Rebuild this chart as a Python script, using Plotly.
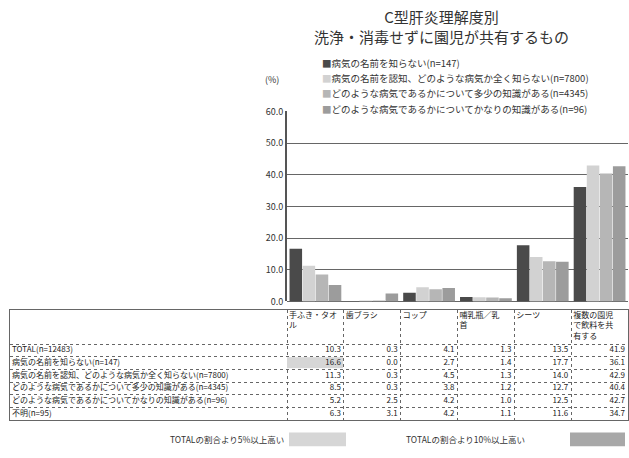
import plotly.graph_objects as go

# ---- data ----
categories = ["手ふき・タオル", "歯ブラシ", "コップ", "哺乳瓶／乳首", "シーツ", "複数の園児で飲料を共有する"]
header_labels = ["手ふき・タオ<br>ル", "歯ブラシ", "コップ", "哺乳瓶／乳<br>首", "シーツ", "複数の園児<br>で飲料を共<br>有する"]

row_labels = [
    "TOTAL(n=12483)",
    "病気の名前を知らない(n=147)",
    "病気の名前を認知、どのような病気か全く知らない(n=7800)",
    "どのような病気であるかについて多少の知識がある(n=4345)",
    "どのような病気であるかについてかなりの知識がある(n=96)",
    "不明(n=95)",
]
total_vals = [10.3, 0.3, 4.1, 1.3, 13.5, 41.9]
unaware_vals = [16.6, 0.0, 2.7, 1.4, 17.7, 36.1]
name_only_vals = [11.3, 0.3, 4.5, 1.3, 14.0, 42.9]
some_knowledge_vals = [8.5, 0.3, 3.8, 1.2, 12.7, 40.4]
good_knowledge_vals = [5.2, 2.5, 4.2, 1.0, 12.5, 42.7]
unknown_vals = [6.3, 3.1, 4.2, 1.1, 11.6, 34.7]

series_names = [
    "病気の名前を知らない(n=147)",
    "病気の名前を認知、どのような病気か全く知らない(n=7800)",
    "どのような病気であるかについて多少の知識がある(n=4345)",
    "どのような病気であるかについてかなりの知識がある(n=96)",
]
series_vals = [unaware_vals, name_only_vals, some_knowledge_vals, good_knowledge_vals]
series_colors = ["#4a4a4a", "#d2d2d2", "#b6b6b6", "#9c9c9c"]

y_ticks = [0, 10, 20, 30, 40, 50, 60]

W, H = 629, 458
FONT = "Noto Sans CJK JP"
LIGHT, DARK = "#d6d6d6", "#a8a8a8"


def px(x):
    return x / W


def py(y):
    return 1 - y / H


# table geometry (in table-axis units)
LABEL_COL_W = 277
VALUE_COL_W = 56.83
HEADER_H = 35
ROW_H = 13
col_edges = [0, LABEL_COL_W] + [LABEL_COL_W + VALUE_COL_W * (k + 1) for k in range(len(categories))]
row_edges = [0, HEADER_H] + [HEADER_H + ROW_H * (k + 1) for k in range(len(row_labels))]
TABLE_W = col_edges[-1]
TABLE_H = row_edges[-1]

fig = go.Figure()

# ---- grouped bars ----
for name, vals, color in zip(series_names, series_vals, series_colors):
    fig.add_trace(go.Bar(x=categories, y=vals, name=name,
                         marker=dict(color=color, line=dict(width=0)),
                         showlegend=False, xaxis="x", yaxis="y"))

# ---- table: highlighted cells (5pt / 10pt above TOTAL) ----
all_rows = [total_vals, unaware_vals, name_only_vals, some_knowledge_vals,
            good_knowledge_vals, unknown_vals]
z = [[None] * (len(categories) + 1) for _ in range(len(row_labels) + 1)]
for i, r in enumerate(all_rows):
    for j in range(len(categories)):
        diff = r[j] - total_vals[j]
        if diff >= 10:
            z[i + 1][j + 1] = 2
        elif diff >= 5:
            z[i + 1][j + 1] = 1
fig.add_trace(go.Heatmap(
    x=col_edges, y=row_edges, z=z, zmin=0, zmax=2,
    colorscale=[[0, "white"], [0.5, LIGHT], [1, DARK]],
    showscale=False, xgap=1, ygap=1, hoverinfo="skip",
    xaxis="x2", yaxis="y2"))

# header texts
fig.add_trace(go.Scatter(
    x=[e + 2 for e in col_edges[1:-1]], y=[2] * len(categories),
    text=header_labels, mode="text", textposition="bottom right",
    textfont=dict(family=FONT, size=8, color="#222"),
    showlegend=False, hoverinfo="skip", xaxis="x2", yaxis="y2"))

row_centers = [(row_edges[i + 1] + row_edges[i + 2]) / 2 for i in range(len(row_labels))]
# row labels
fig.add_trace(go.Scatter(
    x=[2] * len(row_labels), y=row_centers, text=row_labels,
    mode="text", textposition="middle right",
    textfont=dict(family=FONT, size=8, color="#222"),
    showlegend=False, hoverinfo="skip", xaxis="x2", yaxis="y2"))

# value cells
cell_x, cell_y, cell_t = [], [], []
for i, r in enumerate(all_rows):
    for j, v in enumerate(r):
        cell_x.append(col_edges[j + 2] - 3)
        cell_y.append(row_centers[i])
        cell_t.append(f"{v:.1f}")
fig.add_trace(go.Scatter(
    x=cell_x, y=cell_y, text=cell_t, mode="text", textposition="middle left",
    textfont=dict(family=FONT, size=8, color="#222"),
    showlegend=False, hoverinfo="skip", xaxis="x2", yaxis="y2"))

annotations = [
    dict(x=px(441), y=py(20), xref="paper", yref="paper", xanchor="center", yanchor="middle",
         text="C型肝炎理解度別<br>洗浄・消毒せずに園児が共有するもの", showarrow=False,
         font=dict(family=FONT, size=15, color="#333"), align="center"),
    dict(x=px(272), y=py(75), xref="paper", yref="paper", xanchor="center", yanchor="middle",
         text="(%)", showarrow=False, font=dict(family=FONT, size=9, color="#333")),
]

# legend rows
legend_y = [58, 73.5, 89, 105]
for name, color, ly in zip(series_names, series_colors, legend_y):
    annotations.append(dict(
        x=px(320), y=py(ly), xref="paper", yref="paper", xanchor="left", yanchor="middle",
        text=f"<span style='color:{color}'>■</span>{name}", showarrow=False,
        align="left", width=280, bgcolor="white",
        font=dict(family=FONT, size=9.5, color="#333")))

# footer notes
annotations += [
    dict(x=px(286), y=py(445), xref="paper", yref="paper", xanchor="right", yanchor="middle",
         text="TOTALの割合より5%以上高い", showarrow=False,
         font=dict(family=FONT, size=8.5, color="#333")),
    dict(x=px(527), y=py(445), xref="paper", yref="paper", xanchor="right", yanchor="middle",
         text="TOTALの割合より10%以上高い", showarrow=False,
         font=dict(family=FONT, size=8.5, color="#333")),
]
shapes = [
    dict(type="rect", xref="paper", yref="paper", x0=px(289), x1=px(346), y0=py(452), y1=py(438),
         fillcolor=LIGHT, line=dict(width=0)),
    dict(type="rect", xref="paper", yref="paper", x0=px(570), x1=px(625), y0=py(452), y1=py(438),
         fillcolor=DARK, line=dict(width=0)),
]

fig.update_layout(
    width=W, height=H,
    margin=dict(l=0, r=0, t=0, b=0),
    paper_bgcolor="white", plot_bgcolor="white",
    barmode="group", bargap=0.08, bargroupgap=0.04,
    font=dict(family=FONT, color="#333"),
    xaxis=dict(domain=[px(287), px(628)], range=[-0.5, 5.5],
               showticklabels=False, ticks="", showgrid=False, zeroline=False),
    yaxis=dict(domain=[py(303), py(107.5)], range=[0, 60], tickvals=y_ticks,
               tickformat=".1f", showgrid=True, gridcolor="#666", gridwidth=1,
               showline=True, linecolor="#555", linewidth=2, ticks="",
               zeroline=True, zerolinecolor="#666", zerolinewidth=1,
               tickfont=dict(family=FONT, size=9, color="#333")),
    xaxis2=dict(domain=[px(10), px(628)], range=[0, TABLE_W], anchor="y2",
                tickvals=col_edges[1:-1], showticklabels=False, ticks="",
                showgrid=True, gridcolor="#666", gridwidth=1, griddash="dot",
                showline=True, mirror=True, linecolor="#666", linewidth=1,
                zeroline=False, fixedrange=True),
    yaxis2=dict(domain=[py(425), py(312)], range=[TABLE_H, 0], anchor="x2",
                tickvals=row_edges[1:-1], showticklabels=False, ticks="",
                showgrid=True, gridcolor="#666", gridwidth=1, griddash="dot",
                showline=True, mirror=True, linecolor="#666", linewidth=1,
                zeroline=False, fixedrange=True),
    annotations=annotations,
    shapes=shapes,
)

fig.write_html("out.html")
